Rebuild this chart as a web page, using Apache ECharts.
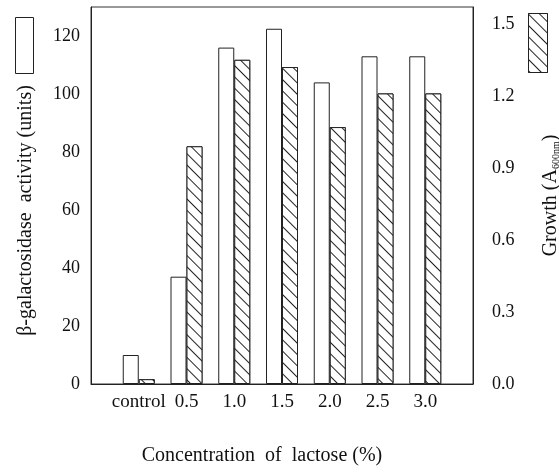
<!DOCTYPE html>
<html lang="en">
<head>
    <meta charset="UTF-8">
    <title>Lactose concentration</title>
    <script src="https://cdn.jsdelivr.net/npm/echarts@6/dist/echarts.min.js"></script>
</head>
<body style="margin:0">
<div id="main" style="width:559px;height:473px"></div>
<script type="text/javascript">
    // data
    var categories = ['control', '0.5', '1.0', '1.5', '2.0', '2.5', '3.0'];
    var activity = [10, 37, 116, 122.5, 104, 113, 113];   // β-galactosidase (units), left axis
    var growth = [0.02, 0.99, 1.35, 1.32, 1.07, 1.21, 1.21]; // A600nm, right axis

    // one empty slot on each side so the groups sit away from the frame
    var xData = [''].concat(categories, ['']);
    var actData = [null].concat(activity, [null]);
    var grData = [null].concat(growth, [null]);

    var font = 'Liberation Serif';
    var hatch = {
        symbol: 'rect',
        symbolSize: 1,
        dashArrayX: [1, 0],
        dashArrayY: [1, 7],
        rotation: Math.PI / 4,
        color: '#222',
        backgroundColor: '#fff'
    };

    var myChart = echarts.init(document.getElementById('main'));
    myChart.setOption({
        animation: false,
        backgroundColor: '#fff',
        textStyle: {fontFamily: font, color: '#111'},
        grid: {
            left: 91, right: 86, top: 7, bottom: 89,
            containLabel: false, outerBoundsMode: 'none',
            show: true, borderColor: '#333', borderWidth: 1
        },
        legend: [
            {
                data: ['activity'], left: 10, top: 12, itemWidth: 18, itemHeight: 56,
                icon: 'rect', formatter: function () { return ''; }, selectedMode: false,
                itemStyle: {borderColor: '#222', borderWidth: 1}
            },
            {
                data: ['growth'], left: 523, top: 8, itemWidth: 19, itemHeight: 59,
                icon: 'rect', formatter: function () { return ''; }, selectedMode: false,
                itemStyle: {borderColor: '#222', borderWidth: 1}
            }
        ],
        xAxis: {
            type: 'category',
            data: xData,
            boundaryGap: false,
            axisLine: {lineStyle: {color: '#222'}},
            axisTick: {show: false},
            axisLabel: {interval: 0, fontSize: 19, color: '#111', margin: 9, fontFamily: font},
            name: 'Concentration  of  lactose (%)',
            nameLocation: 'middle',
            nameGap: 62,
            nameTextStyle: {fontSize: 20, color: '#111', fontFamily: font, padding: [0, 40, 0, 0]}
        },
        yAxis: [
            {
                type: 'value',
                min: 0, max: 130, interval: 20,
                name: 'β-galactosidase  activity (units)',
                nameLocation: 'middle',
                nameRotate: 90,
                nameGap: 55,
                nameTextStyle: {fontSize: 20, color: '#111', fontFamily: font, padding: [0, 30, 0, 0]},
                axisLine: {show: true, lineStyle: {color: '#222'}},
                axisTick: {inside: true, length: 3, lineStyle: {color: '#222'}},
                axisLabel: {fontSize: 18, color: '#111', margin: 11, fontFamily: font, showMaxLabel: false},
                splitLine: {show: false}
            },
            {
                type: 'value',
                min: 0, max: 1.57, interval: 0.3,
                name: '{a|Growth (A}{s|600nm}{a|)}',
                nameLocation: 'middle',
                nameRotate: 90,
                nameGap: 68,
                nameTextStyle: {
                    fontFamily: font, color: '#111',
                    rich: {
                        a: {fontSize: 20, fontFamily: font, color: '#111'},
                        s: {fontSize: 10, fontFamily: font, color: '#111', verticalAlign: 'bottom', padding: [8, 0, 0, 0]}
                    }
                },
                axisLine: {show: true, lineStyle: {color: '#222'}},
                axisTick: {inside: true, length: 3, lineStyle: {color: '#222'}},
                axisLabel: {
                    fontSize: 18, color: '#111', margin: 19, fontFamily: font, showMaxLabel: false,
                    formatter: function (v) { return v.toFixed(1); }
                },
                splitLine: {show: false}
            }
        ],
        series: [
            {
                name: 'activity',
                type: 'bar',
                yAxisIndex: 0,
                barWidth: 16,
                barGap: '0%',
                itemStyle: {color: '#fff', borderColor: '#222', borderWidth: 1},
                data: actData
            },
            {
                name: 'growth',
                type: 'bar',
                yAxisIndex: 1,
                barWidth: 16,
                barGap: '0%',
                itemStyle: {color: '#fff', borderColor: '#222', borderWidth: 1, decal: hatch},
                data: grData
            }
        ]
    });
</script>
</body>
</html>
